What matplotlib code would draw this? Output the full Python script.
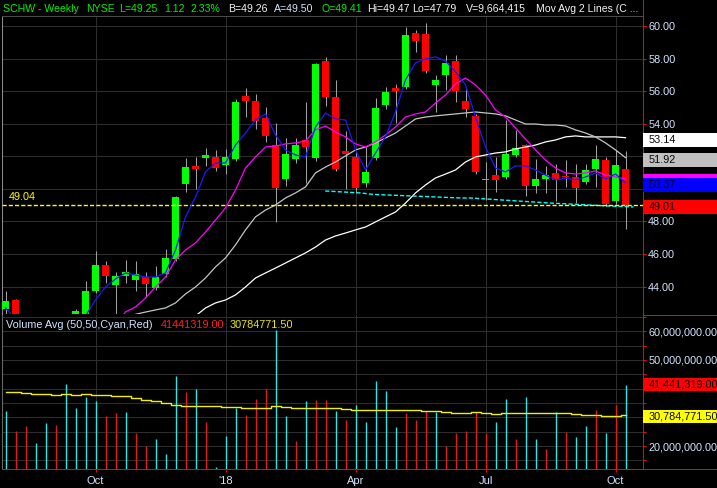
import matplotlib

matplotlib.use("Agg")

import matplotlib.pyplot as plt
import numpy as np
from matplotlib.lines import Line2D
from matplotlib.patches import Rectangle
from matplotlib.ticker import FixedLocator, FuncFormatter, MultipleLocator
from matplotlib.transforms import blended_transform_factory

plt.rcParams["font.family"] = ["Liberation Sans", "DejaVu Sans"]

# Velas semanales SCHW (precios; 2-6 quedan bajo el eje)
opens = [42.63, 43.18, 41.9, 41.3, 41.6, 41.9, 41.4, 42.2, 42.3, 43.73,
         45.33, 44.10, 44.65, 44.41, 44.59, 43.92, 44.78, 45.70, 50.30, 51.41,
         51.90, 51.96, 51.47, 51.84, 55.70, 55.40, 54.35, 52.69, 50.61, 51.84,
         53.00, 51.90, 57.85, 55.64, 52.33, 51.96, 50.36, 51.90, 55.15, 56.19,
         56.26, 59.57, 59.51, 56.38, 56.99, 57.85, 55.40, 54.48, 50.55, 50.85,
         50.73, 52.08, 52.69, 50.18, 50.61, 50.98, 50.79, 50.73, 50.42, 51.22,
         51.77, 49.26, 51.22]
highs = [43.73, 43.24, 42.2, 41.9, 42.1, 42.2, 42.0, 42.63, 44.35, 46.19,
         45.57, 44.90, 45.64, 45.57, 44.90, 45.27, 46.31, 49.56, 51.90, 51.96,
         52.51, 52.39, 52.45, 55.52, 56.19, 55.83, 55.03, 54.05, 53.12, 53.12,
         55.33, 57.73, 58.10, 56.69, 53.55, 52.30, 52.57, 55.58, 56.26, 56.44,
         59.94, 59.75, 60.18, 56.99, 58.22, 58.22, 56.13, 54.60, 51.65, 51.96,
         54.23, 53.62, 52.76, 51.84, 51.41, 51.53, 51.77, 51.53, 51.53, 52.69,
         51.96, 52.39, 52.33]
lows = [42.2, 41.8, 41.0, 40.8, 41.2, 41.0, 41.0, 41.6, 42.0, 43.6,
        44.22, 42.2, 44.22, 43.73, 43.36, 43.80, 44.60, 45.60, 49.81, 49.99,
        51.41, 51.10, 50.91, 51.70, 54.41, 53.68, 52.90, 47.97, 50.18, 51.60,
        50.36, 51.71, 55.09, 51.10, 49.99, 49.75, 50.12, 51.80, 54.90, 54.05,
        56.10, 58.40, 57.10, 54.72, 56.07, 55.33, 54.41, 50.90, 49.32, 49.81,
        50.61, 51.96, 49.56, 49.75, 49.75, 49.26, 50.12, 49.13, 50.30, 50.12,
        48.95, 49.10, 47.54]
closes = [43.12, 42.1, 41.3, 41.6, 41.9, 41.4, 41.8, 42.5, 43.73, 45.33,
          44.65, 44.65, 44.90, 44.78, 44.16, 44.59, 45.76, 49.50, 51.34, 51.22,
          52.08, 51.28, 51.96, 55.33, 55.40, 54.17, 53.25, 50.06, 52.14, 52.69,
          52.57, 57.67, 55.64, 51.22, 52.14, 50.06, 51.04, 54.97, 55.95, 56.01,
          59.45, 59.08, 57.24, 56.69, 57.73, 56.01, 54.90, 51.04, 50.61, 50.55,
          52.14, 52.51, 50.18, 50.61, 50.85, 50.55, 50.73, 50.06, 51.16, 51.84,
          49.07, 51.47, 49.01]

# Medias móviles (None = fuera del gráfico)
ma_blue = [42.7, 42.0, 41.5, 41.2, 41.0, 41.0, 41.2, 41.6, 42.2, 43.18,
           43.98, 44.47, 44.84, 44.71, 44.59, 44.59, 44.84, 46.25, 48.28, 49.50,
           51.04, 51.59, 51.59, 52.69, 53.43, 54.23, 54.60, 53.31, 52.39, 52.08,
           51.96, 53.80, 54.66, 54.29, 54.23, 52.39, 51.16, 52.20, 53.19, 54.72,
           56.69, 57.73, 57.97, 58.10, 57.85, 57.18, 56.38, 54.41, 52.57, 51.28,
           51.04, 51.41, 51.41, 51.16, 50.85, 50.55, 50.67, 50.55, 50.73, 50.98,
           50.61, 50.91, 50.37]
ma_magenta = [None] * 10 + [
           40.9, 41.5, 42.45, 42.75, 43.30, 43.98, 44.59, 45.64, 46.25, 46.68,
           47.35, 48.09, 48.83, 49.93, 51.28, 51.96, 52.57, 52.63, 52.76, 52.82,
           52.94, 53.62, 53.86, 53.49, 53.19, 52.76, 52.57, 52.88, 53.31, 53.80,
           54.41, 54.60, 54.72, 55.27, 55.76, 56.44, 56.81, 56.38, 55.76, 54.84,
           54.41, 53.74, 53.06, 52.39, 51.77, 51.28, 50.98, 50.91, 50.98, 51.10,
           50.85, 50.73, 50.61]
ma_grey = [None] * 11 + [
           41.4, 42.0, 42.30, 42.44, 42.57, 42.69, 43.00, 43.55, 43.98,
           44.53, 45.21, 45.76, 46.56, 47.48, 48.28, 48.70, 49.01, 49.44, 49.75,
           50.12, 50.98, 51.34, 51.65, 52.02, 52.39, 52.57, 52.82, 53.12, 53.43,
           53.86, 54.29, 54.41, 54.48, 54.54, 54.60, 54.66, 54.72, 54.66, 54.60,
           54.48, 54.23, 53.98, 53.98, 53.92, 53.92, 53.86, 53.62, 53.43, 53.19,
           52.82, 52.39, 51.92]
ma_white = [None] * 18 + [
           41.6, 42.2,
           42.69, 43.00, 43.18, 43.49, 43.98, 44.53, 44.84, 45.14, 45.45, 45.76,
           46.07, 46.43, 46.86, 47.11, 47.29, 47.48, 47.66, 47.97, 48.28, 48.58,
           49.13, 49.75, 50.24, 50.67, 50.91, 51.16, 51.65, 51.96, 52.08, 52.20,
           52.27, 52.45, 52.57, 52.69, 52.88, 53.00, 53.19, 53.25, 53.19, 53.19,
           53.19, 53.19, 53.14]

# Línea de soporte (cian) y nivel 49.04
support_x = [31.97, 35.5, 36.8, 45.5, 46.5, 54.5, 60.2, 62.8]
support_y = [49.87, 49.75, 49.66, 49.44, 49.44, 49.13, 48.95, 48.89]
level = 49.04

# Volumen semanal (millones) y promedio de 50
volumes = [32.3, 25.2, 27.0, 21.0, 28.0, 27.3, 41.6, 33.3, 37.1, 35.7,
           30.5, 31.5, 31.9, 24.5, 20.0, 22.4, 17.2, 44.4, 38.8, 39.9,
           28.4, 12.7, 23.5, 33.3, 30.8, 36.4, 39.9, 60.5, 30.5, 21.7,
           35.7, 36.0, 36.0, 32.2, 29.1, 34.3, 28.4, 42.7, 39.2, 26.6,
           31.5, 29.1, 32.2, 31.9, 20.0, 24.5, 25.2, 31.9, 24.5, 28.4,
           36.4, 22.4, 37.1, 22.4, 19.0, 31.9, 24.9, 23.1, 27.0, 32.6,
           24.5, 34.3, 41.44]
vol_dir = "crrccrccccrrcrrcccrcrcccrrrccrcrrcrcccccrrrcrrrrrccrccrcrccrcr"
vol_avg = [38.8, 38.8, 38.5, 38.1, 38.1, 37.8, 38.1, 37.8, 38.1, 37.8,
           37.8, 37.6, 37.3, 36.7, 36.2, 35.7, 35.0, 34.3, 34.0, 34.0,
           34.1, 34.0, 33.6, 33.6, 33.1, 33.1, 33.3, 34.1, 33.6, 33.3,
           33.4, 33.3, 33.3, 33.1, 32.9, 32.7, 32.7, 32.6, 32.6, 32.6,
           32.6, 32.6, 32.2, 32.2, 31.9, 31.5, 31.5, 31.9, 31.5, 31.3,
           31.5, 31.5, 31.5, 31.5, 31.5, 31.5, 31.5, 31.2, 30.8, 30.8,
           30.5, 30.5, 30.78]

tick_pos = [9, 22, 35, 48, 61]
tick_labels = ["Oct", "'18", "Apr", "Jul", "Oct"]

W, H = 717, 488
GRID = "#2e2e2e"
RED = "#ff0000"
LABEL = "#d4e4ff"
FS = 7.8
XLIM = (-0.35, 63.75)


def frac(x0, y0, x1, y1):
    return [x0 / W, 1 - y1 / H, (x1 - x0) / W, (y1 - y0) / H]


def value_box(axis, value, text, face, per_px, shift_px=0.0, height_px=14):
    tr = blended_transform_factory(axis.transAxes, axis.transData)
    h = height_px * per_px
    yc = value - shift_px * per_px
    axis.add_patch(Rectangle((1.0, yc - h / 2), 80 / 641, h, transform=tr,
                             facecolor=face, edgecolor="none", clip_on=False, zorder=10))
    if text:
        axis.text(1.0 + 6 / 641, yc, text, transform=tr, ha="left", va="center",
                  fontsize=FS, color="#080808", clip_on=False, zorder=11)


fig = plt.figure(figsize=(W / 100, H / 100), dpi=100, facecolor="black")
ax = fig.add_axes(frac(2, 16, 643, 314), facecolor="black")
axv = fig.add_axes(frac(2, 315, 643, 469), facecolor="black")

weeks = np.arange(len(closes))
o = np.array(opens)
c = np.array(closes)

# --- precio ---
ax.vlines(weeks, lows, highs, color="#a0a0a0", lw=0.75, zorder=3)
ax.bar(weeks, np.abs(c - o), bottom=np.minimum(o, c), width=0.7, linewidth=0,
       color=["#00ff00" if cc >= oo else "#ff0000" for oo, cc in zip(o, c)], zorder=4)
ax.plot(weeks, np.array(ma_white, dtype=float), color="#ffffff", lw=0.9, zorder=5)
ax.plot(weeks, np.array(ma_grey, dtype=float), color="#c4c4c4", lw=0.9, zorder=5)
ax.plot(weeks, np.array(ma_magenta, dtype=float), color="#ff00ff", lw=0.9, zorder=6)
ax.plot(weeks, np.array(ma_blue, dtype=float), color="#1a1aff", lw=0.9, zorder=7)
ax.plot(support_x, support_y, color="#00ffff", lw=1.0, dashes=(3, 1.5), zorder=5)
ax.axhline(level, color="#ffff00", lw=1.0, dashes=(3, 1.5), zorder=5)
ax.text(0.3, level + 0.18, f"{level:.2f}", color="#ffff00", fontsize=FS,
        ha="left", va="bottom", zorder=8)

ax.set_xlim(*XLIM)
ax.set_ylim(42.32, 60.61)
ax.yaxis.tick_right()
ax.set_yticks(range(44, 61, 2))
ax.yaxis.set_major_formatter(
    FuncFormatter(lambda v, _: "" if round(v) in (50, 52) else f"{v:.2f}"))
ax.tick_params(axis="y", colors=RED, labelcolor=LABEL, length=2.2, width=0.75,
               labelsize=FS, pad=1.5)
ax.set_xticks(tick_pos)
ax.tick_params(axis="x", length=0, labelbottom=False)
ax.grid(True, color=GRID, lw=0.75)
ax.set_axisbelow(True)
ax.spines["right"].set_color(RED)
ax.spines["left"].set_color("#8a8a8a")
ax.spines["top"].set_color("#4a4a4a")
ax.spines["bottom"].set_visible(False)
for s in ax.spines.values():
    s.set_linewidth(0.75)

pp = 1 / 16.29
value_box(ax, 53.14, "53.14", "#ffffff", pp, 2)
value_box(ax, 51.92, "51.92", "#c0c0c0", pp, 2)
value_box(ax, 50.61, "", "#ff00ff", pp, 2)
value_box(ax, 50.37, "50.37", "#0000ff", pp, 2)
value_box(ax, 49.01, "49.01", "#ff0000", pp, 2)

# --- volumen ---
vol = np.array(volumes) * 1e6
axv.vlines(weeks, 0, vol, lw=1.0, zorder=3,
           colors=["#2ee6e6" if d == "c" else "#e41c1c" for d in vol_dir])
axv.plot(weeks, np.array(vol_avg) * 1e6, drawstyle="steps-mid", color="#f0f000",
         lw=1.0, zorder=4)
axv.set_xlim(*XLIM)
axv.set_ylim(11.98e6, 65.69e6)
axv.yaxis.tick_right()
axv.yaxis.set_major_locator(FixedLocator([20e6, 50e6, 60e6]))
axv.yaxis.set_minor_locator(MultipleLocator(5e6))
axv.yaxis.set_major_formatter(FuncFormatter(lambda v, _: f"{v:,.2f}"))
axv.tick_params(axis="y", which="both", colors=RED, labelcolor=LABEL, length=2.2,
                width=0.75, labelsize=FS, pad=1.5)
axv.set_xticks(tick_pos)
axv.set_xticklabels(tick_labels)
axv.tick_params(axis="x", colors=RED, labelcolor=LABEL, length=2.2, width=0.75,
                labelsize=8, pad=2.5)
axv.grid(True, which="both", color=GRID, lw=0.75)
axv.set_axisbelow(True)
axv.spines["right"].set_color(RED)
axv.spines["bottom"].set_color(RED)
axv.spines["left"].set_color("#6a6a6a")
axv.spines["top"].set_visible(False)
for s in axv.spines.values():
    s.set_linewidth(0.75)

vp = 1e6 / 2.867
value_box(axv, 41441319.0, "41,441,319.00", "#ff0000", vp, 0, 13)
value_box(axv, 30784771.5, "30,784,771.50", "#ffff00", vp, 1, 13)

axv.text(0.1, 62.3e6, "Volume Avg (50,50,Cyan,Red)", color=LABEL, fontsize=FS,
         va="center", ha="left", zorder=8)
axv.text(15.5, 62.3e6, "41441319.00", color="#ff2020", fontsize=FS, va="center", zorder=8)
axv.text(22.4, 62.3e6, "30784771.50", color="#e8e800", fontsize=FS, va="center", zorder=8)

# --- líneas sueltas del marco ---
fig.add_artist(Line2D([643 / W, 643 / W], [1, 1 - 16 / H], color=RED, lw=0.75))
fig.add_artist(Line2D([643 / W, 1], [1 - 315 / H] * 2, color=RED, lw=0.75))
fig.add_artist(Line2D([643 / W, 1], [1 - 469 / H] * 2, color=RED, lw=0.75))

# --- encabezado ---
GREEN = "#00f000"
WHITE = "#f4f4f4"
header = [
    (3, "SCHW - Weekly", GREEN), (86, "NYSE", GREEN), (119, "L=49.25", GREEN),
    (164, "1.12", GREEN), (191, "2.33%", GREEN), (228, "B=49.26", WHITE),
    (274, "A=49.50", LABEL), (322, "O=49.41", GREEN), (367, "Hi=49.47", WHITE),
    (412, "Lo=47.79", WHITE), (466, "V=9,664,415", WHITE),
    (536, "Mov Avg 2 Lines (C ...", WHITE),
]
for x, s, col in header:
    fig.text(x / W, 1 - 8.5 / H, s, color=col, fontsize=7.6, ha="left", va="center")

fig.savefig("out.png", dpi=100, facecolor="black")
